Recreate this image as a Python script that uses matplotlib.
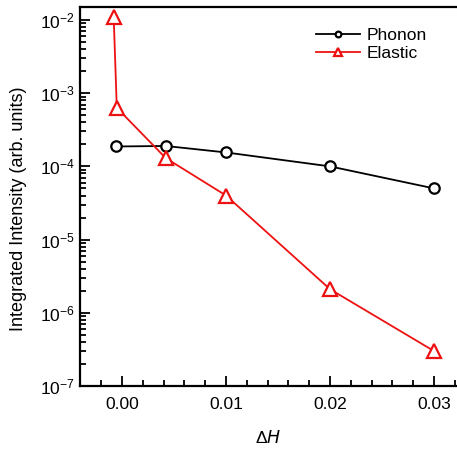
import numpy as np
import matplotlib
matplotlib.use('Agg')
import matplotlib.pyplot as plt
from matplotlib.ticker import LogLocator, MultipleLocator, NullFormatter

plt.rcParams['font.family'] = ['Liberation Sans', 'DejaVu Sans']
plt.rcParams['mathtext.default'] = 'regular'

# 数据
phonon_x = [-0.0006, 0.0042, 0.010, 0.020, 0.030]
phonon_y = [1.87e-4, 1.9e-4, 1.55e-4, 1.0e-4, 5.0e-5]
elastic_x = [-0.0008, -0.0005, 0.0042, 0.010, 0.020, 0.030]
elastic_y = [1.1e-2, 6.3e-4, 1.3e-4, 4.0e-5, 2.1e-6, 3.0e-7]

RED = '#ee1111'

fig = plt.figure(figsize=(4.57, 4.51), dpi=100)
ax = fig.add_axes([0.175, 0.144, 0.825, 0.841])

ax.plot(phonon_x, phonon_y, color='black', linewidth=1.3, marker='o', markersize=7.5,
        markerfacecolor='white', markeredgewidth=1.6, label='Phonon')
ax.plot(elastic_x, elastic_y, color=RED, linewidth=1.3, marker='^', markersize=9.5,
        markerfacecolor='white', markeredgewidth=1.6, label='Elastic')

ax.set_yscale('log')
ax.set_xlim(-0.00404, 0.0322)
ax.set_ylim(1e-7, 10**-1.82)

ax.xaxis.set_major_locator(MultipleLocator(0.01))
ax.xaxis.set_minor_locator(MultipleLocator(0.002))
ax.xaxis.set_major_formatter(plt.FuncFormatter(lambda v, p: f'{v:.2f}'))
ax.yaxis.set_major_locator(LogLocator(base=10, numticks=10))
ax.yaxis.set_minor_locator(LogLocator(base=10, subs=np.arange(2, 10), numticks=10))
ax.yaxis.set_minor_formatter(NullFormatter())

ax.tick_params(which='both', direction='in', top=False, right=False, labelsize=12.5, width=1.3)
ax.tick_params(which='major', length=7)
ax.tick_params(which='minor', length=4)
ax.tick_params(axis='x', pad=8)
for s in ax.spines.values():
    s.set_linewidth(1.6)
ax.spines['right'].set_visible(False)

ax.set_xlabel(r'$\Delta$$\it{H}$', fontsize=12.5, labelpad=12)
ax.set_ylabel('Integrated Intensity (arb. units)', fontsize=13)
ax.yaxis.set_label_coords(-0.14, 0.467)

ax.legend(loc='upper right', bbox_to_anchor=(0.962, 0.985), frameon=False, fontsize=12.5,
          markerscale=0.55, handlelength=2.5, handletextpad=0.4, labelspacing=0.15)

plt.savefig('out.png', dpi=100)
